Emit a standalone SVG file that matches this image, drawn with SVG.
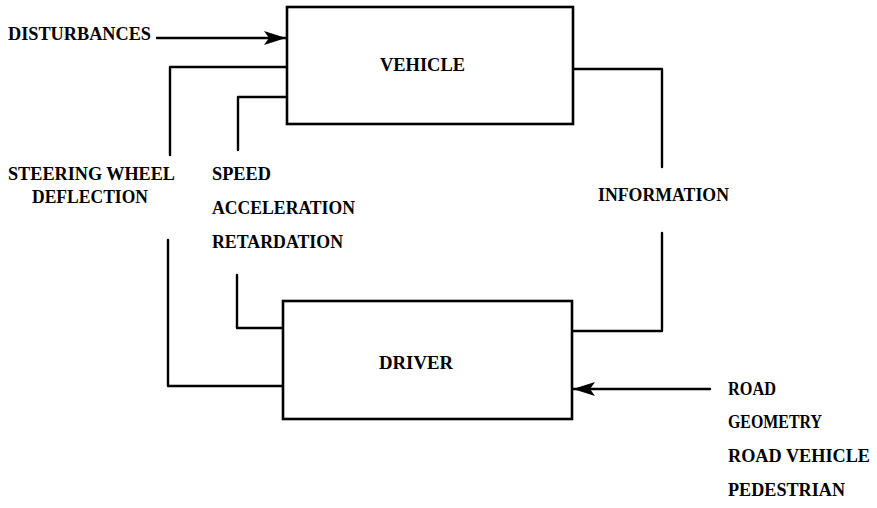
<svg xmlns="http://www.w3.org/2000/svg" width="877" height="508" viewBox="0 0 877 508">
  <defs>
    <style>
      .box { fill: #ffffff; stroke: #000000; stroke-width: 2.6; }
      .ln { fill: none; stroke: #000000; stroke-width: 2.4; stroke-linejoin: round; stroke-linecap: round; }
      .t { font-family: "Liberation Serif", "DejaVu Serif", serif; font-weight: bold; font-size: 19px; fill: #000000; }
    </style>
    <marker id="arr" markerUnits="userSpaceOnUse" markerWidth="26" markerHeight="18" refX="22" refY="8" orient="auto">
      <path d="M0,1 L22,8 L0,15 L5,8 Z" fill="#000000"/>
    </marker>
  </defs>
  <rect width="877" height="508" fill="#ffffff"/>

  <g id="connectors">
    <path class="ln" d="M157,38 L286,38" marker-end="url(#arr)"/>
    <path class="ln" d="M287,67 L170,67 L170,155"/>
    <path class="ln" d="M168,240 L168,386 L283,386"/>
    <path class="ln" d="M287,97 L238,97 L238,150"/>
    <path class="ln" d="M237,275 L237,328 L283,328"/>
    <path class="ln" d="M573,69 L662,69 L662,167"/>
    <path class="ln" d="M662,233 L662,331 L572,331"/>
    <path class="ln" d="M710,389 L573,389" marker-end="url(#arr)"/>
  </g>

  <g id="vehicle">
    <rect class="box" x="287" y="7" width="286" height="117"/>
    <text class="t" x="380" y="71" textLength="85" lengthAdjust="spacingAndGlyphs">VEHICLE</text>
  </g>

  <g id="driver">
    <rect class="box" x="283" y="301" width="289" height="118"/>
    <text class="t" x="379" y="369" textLength="74" lengthAdjust="spacingAndGlyphs">DRIVER</text>
  </g>

  <g id="disturbances">
    <text class="t" x="8" y="40" textLength="143" lengthAdjust="spacingAndGlyphs">DISTURBANCES</text>
  </g>

  <g id="steering">
    <text class="t" x="8" y="180" textLength="167" lengthAdjust="spacingAndGlyphs">STEERING WHEEL</text>
    <text class="t" x="32" y="203" textLength="116" lengthAdjust="spacingAndGlyphs">DEFLECTION</text>
  </g>

  <g id="speed">
    <text class="t" x="212" y="180" textLength="59" lengthAdjust="spacingAndGlyphs">SPEED</text>
    <text class="t" x="212" y="214" textLength="143" lengthAdjust="spacingAndGlyphs">ACCELERATION</text>
    <text class="t" x="212" y="248" textLength="131" lengthAdjust="spacingAndGlyphs">RETARDATION</text>
  </g>

  <g id="information">
    <text class="t" x="598" y="201" textLength="131" lengthAdjust="spacingAndGlyphs">INFORMATION</text>
  </g>

  <g id="road">
    <text class="t" x="728" y="395" textLength="48" lengthAdjust="spacingAndGlyphs">ROAD</text>
    <text class="t" x="728" y="428" textLength="94" lengthAdjust="spacingAndGlyphs">GEOMETRY</text>
    <text class="t" x="728" y="462" textLength="142" lengthAdjust="spacingAndGlyphs">ROAD VEHICLE</text>
    <text class="t" x="728" y="496" textLength="117" lengthAdjust="spacingAndGlyphs">PEDESTRIAN</text>
  </g>
</svg>
